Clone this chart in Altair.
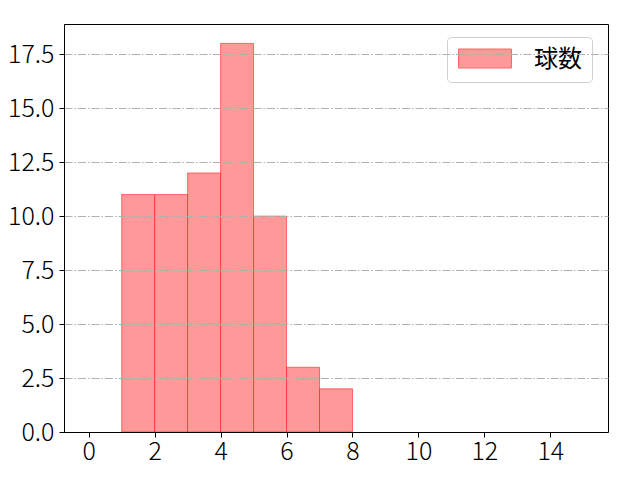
import altair as alt
import pandas as pd

bin_start = [1, 2, 3, 4, 5, 6, 7]
bin_end = [2, 3, 4, 5, 6, 7, 8]
counts = [11, 11, 12, 18, 10, 3, 2]
series = ["球数"] * len(counts)

x_ticks = [0, 2, 4, 6, 8, 10, 12, 14]
y_ticks = [0, 2.5, 5, 7.5, 10, 12.5, 15, 17.5]

df = pd.DataFrame({"start": bin_start, "end": bin_end, "count": counts, "series": series})

font = "Noto Sans CJK JP"

chart = alt.Chart(df).mark_rect(
    stroke="red", strokeOpacity=0.5, strokeWidth=1
).encode(
    x=alt.X("start:Q", scale=alt.Scale(domain=[-0.75, 15.75], nice=False, zero=False),
            axis=alt.Axis(values=x_ticks, title=None, grid=False, format="d",
                          labelFontSize=25, labelFont=font, labelFontWeight=300,
                          labelColor="black",
                          tickColor="black", domainColor="black", tickSize=5,
                          labelPadding=2, labelFlush=False, zindex=2)),
    x2="end:Q",
    y=alt.Y("count:Q", scale=alt.Scale(domain=[0, 18.9], nice=False),
            axis=alt.Axis(values=y_ticks, title=None, format=".1f", grid=True,
                          gridColor="#b0b0b0", gridDash=[8, 2, 1.5, 2], gridWidth=1,
                          labelFontSize=25, labelFont=font, labelFontWeight=300,
                          labelColor="black",
                          tickColor="black", domainColor="black", tickSize=5,
                          labelPadding=5, zindex=1)),
    y2=alt.datum(0),
    fill=alt.Fill("series:N", scale=alt.Scale(range=["#ff9999"]),
                  legend=alt.Legend(title=None, orient="none", legendX=383, legendY=13,
                                    symbolType="M-0.92,-0.88H3.32V0.64H-0.92Z", symbolSize=625,
                                    symbolStrokeColor="#ff6666", symbolStrokeWidth=1,
                                    labelFontSize=24, labelFont=font, labelFontWeight=400,
                                    labelColor="black", labelOffset=51,
                                    padding=10, fillColor="white", strokeColor="#d0d0d0",
                                    cornerRadius=4, rowPadding=0)),
).properties(
    width=544, height=408,
    autosize=alt.AutoSizeParams(type="none"),
    padding={"left": 56, "top": 16, "right": 24, "bottom": 40},
).configure_view(stroke="black", strokeWidth=1)

chart.save("out.html", embed_options={"renderer": "svg", "actions": False})
